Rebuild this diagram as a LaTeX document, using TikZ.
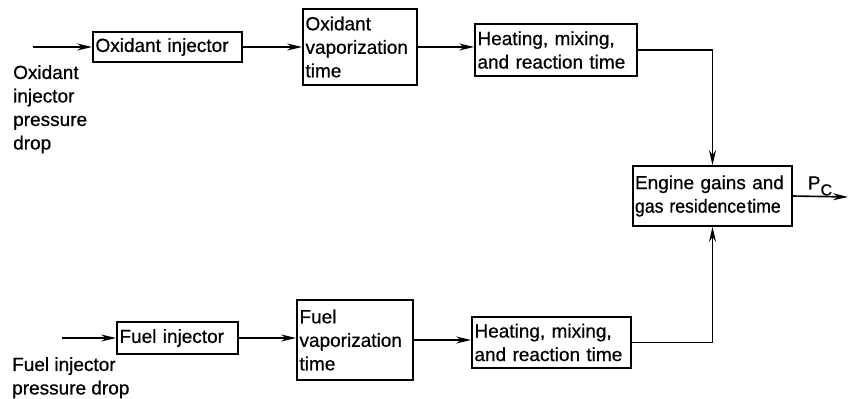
\documentclass[tikz,border=0pt]{standalone}
\usepackage{fontspec}
\usepackage{graphicx}
\setmainfont[FakeBold=0.6]{Liberation Sans}
\usetikzlibrary{arrows.meta}
\begin{document}
\begin{tikzpicture}[x=1pt,y=-1pt,
  every node/.style={font=\fontsize{19}{23.5}\selectfont},
  blk/.style={draw,line width=1.8pt,inner xsep=2.5pt,inner ysep=0pt,align=left,anchor=center},
  lbl/.style={inner sep=0pt,align=left,anchor=north west},
  flow/.style={line width=1.6pt,-{Stealth[length=15pt,width=7pt]}},
  wire/.style={line width=1.6pt}]
\useasboundingbox (0,0) rectangle (849,399);
% boxes
\node[blk,minimum width=149pt,minimum height=30pt,text width=144pt] (oxinj) at (167.5,47) {Oxidant injector};
\node[blk,minimum width=114pt,minimum height=76pt,text width=109pt] (oxvap) at (360,47) {Oxidant\\vaporization\\time};
\node[blk,minimum width=162pt,minimum height=52pt,text width=157pt] (oxheat) at (556,50) {Heating, mixing,\\and reaction time};
\node[blk,minimum width=159pt,minimum height=60pt,text width=155pt,inner xsep=2pt] (eng) at (712.5,196) {Engine gains and\\\scalebox{0.93}[1]{gas residence\hspace{1.5pt}time}};
\node[blk,minimum width=121pt,minimum height=32pt,text width=116pt] (fuinj) at (177.5,338) {Fuel injector};
\node[blk,minimum width=116pt,minimum height=80pt,text width=111pt] (fuvap) at (355,340) {Fuel\\vaporization\\time};
\node[blk,minimum width=159pt,minimum height=51pt,text width=154pt] (fuheat) at (551.5,342.5) {Heating, mixing,\\and reaction time};
% labels
\node[lbl] (oxlbl) at (13,65) {Oxidant\\injector\\pressure\\drop};
\node[lbl] (fulbl) at (12,357) {Fuel injector\\pressure drop};
\node[inner sep=0pt] (pc) at (820,186) {P\raisebox{-6pt}{\fontsize{16}{16}\selectfont C}};
% inputs / output
\coordinate (oxin) at (33,47);
\coordinate (fuin) at (62,338);
\coordinate (out) at (848,197);
% connectors
\draw[flow] (oxin) -- (oxinj.west);
\draw[flow] (oxinj.east) -- (oxvap.west);
\draw[flow] (oxvap.east) -- (oxvap.east -| oxheat.west);
\draw[flow] (oxheat.east) -| (eng.north);
\draw[flow] (fuin) -- (fuinj.west);
\draw[flow] (fuinj.east) -- (fuinj.east -| fuvap.west);
\draw[flow] (fuvap.east) -- (fuvap.east -| fuheat.west);
\draw[flow] (fuheat.east) -| (eng.south);
\draw[flow] (eng.east) -- (out);
\end{tikzpicture}
\end{document}
